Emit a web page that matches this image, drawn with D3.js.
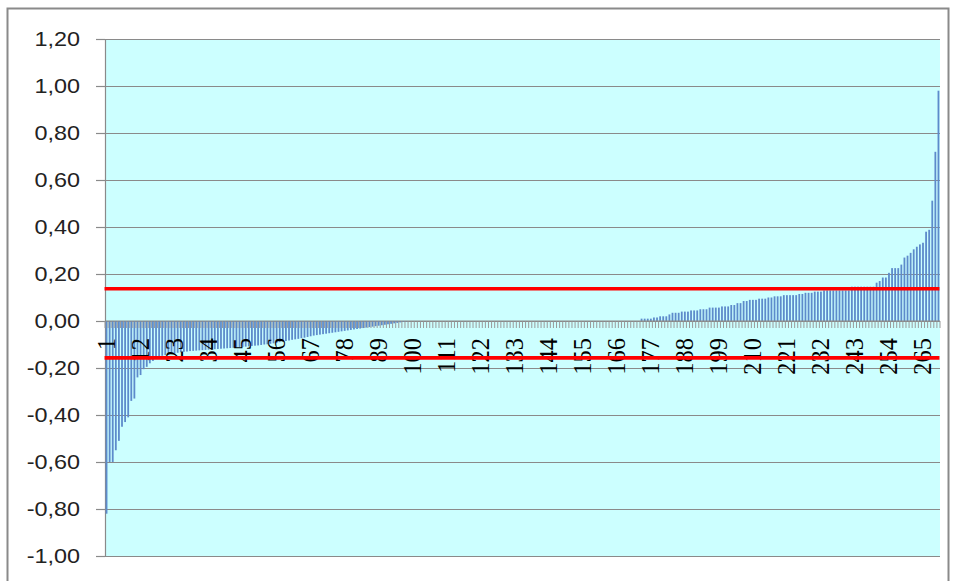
<!DOCTYPE html>
<html><head><meta charset="utf-8">
<script src="https://cdn.jsdelivr.net/npm/d3@7"></script>
<style>
html,body{margin:0;padding:0;background:#fff;}
svg{display:block;}
</style></head>
<body>
<svg id="chart" width="957" height="581"></svg>
<script>
// ---- data ----
const negativeValues = [
 -0.82,-0.60,-0.60,-0.55,-0.51,-0.45,-0.43,-0.41,-0.34,-0.33,
 -0.24,-0.23,-0.205,-0.195,-0.18,-0.17,-0.16,-0.152,-0.148,-0.145,
 -0.142,-0.14,-0.138,-0.135,-0.133,-0.131,-0.13,-0.128,-0.127,-0.126,
 -0.125,-0.124,-0.123,-0.122,-0.121,-0.12,-0.119,-0.118,-0.117,-0.116,
 -0.115,-0.114,-0.113,-0.112,-0.11,-0.109,-0.108,-0.106,-0.105,-0.104,
 -0.102,-0.10,-0.099,-0.097,-0.095,-0.093,-0.09,-0.087,-0.085,-0.083,
 -0.08,-0.078,-0.076,-0.073,-0.071,-0.068,-0.065,-0.062,-0.06,-0.058,
 -0.056,-0.054,-0.052,-0.05,-0.048,-0.046,-0.044,-0.042,-0.04,-0.038,
 -0.036,-0.034,-0.032,-0.03,-0.028,-0.026,-0.024,-0.022,-0.02,-0.018,
 -0.016,-0.014,-0.012,-0.01,-0.008,-0.006,-0.004,-0.002
];
const zeroValues = [
 0,0,0,0,0,0,0,0,0,0, 0,0,0,0,0,0,0,0,0,0,
 0,0,0,0,0,0,0,0,0,0, 0,0,0,0,0,0,0,0,0,0,
 0,0,0,0,0,0,0,0,0,0, 0,0,0,0,0,0,0,0,0,0,
 0,0,0,0,0,0,0,0,0,0, 0,0,0,0,0
];
const positiveValues = [
 0.01,0.01,0.01,0.01,0.015,0.015,0.02,0.02,0.02,0.028,
 0.035,0.035,0.035,0.04,0.04,0.04,0.045,0.045,0.045,0.05,
 0.05,0.05,0.057,0.057,0.057,0.057,0.062,0.062,0.062,0.068,
 0.068,0.076,0.076,0.085,0.085,0.09,0.09,0.09,0.095,0.095,
 0.095,0.10,0.10,0.105,0.105,0.105,0.11,0.11,0.11,0.11,
 0.11,0.115,0.115,0.12,0.12,0.12,0.125,0.125,0.125,0.13,
 0.13,0.13,0.13,0.13,0.13,0.13,0.13,0.13,0.146,0.146,
 0.146,0.146,0.146,0.146,0.146,0.146,0.163,0.17,0.185,0.185,
 0.205,0.225,0.225,0.225,0.24,0.27,0.278,0.29,0.305,0.316,
 0.326,0.333,0.38,0.388,0.512,0.72,0.98
];
const values = negativeValues.concat(zeroValues, positiveValues);
const categories = values.map((d, i) => i + 1);
const categoryTickLabels = [1,12,23,34,45,56,67,78,89,100,111,122,133,144,155,166,177,188,199,210,221,232,243,254,265];
const yTicks = [-1.0,-0.8,-0.6,-0.4,-0.2,0,0.2,0.4,0.6,0.8,1.0,1.2];
const upperLimit = 0.137;
const lowerLimit = -0.157;

// ---- layout ----
const svg = d3.select("#chart");
const plot = {left:105, right:940, top:39, bottom:556};

const x = d3.scaleBand().domain(categories).range([plot.left, plot.right]).paddingInner(0.42).paddingOuter(0.21);
const xc = d => x(d) + x.bandwidth()/2;
const y = d3.scaleLinear().domain([-1, 1.2]).range([plot.bottom, plot.top]);

// outer chart border
svg.append("rect").attr("x",7.5).attr("y",8.5).attr("width",941).attr("height",600)
  .attr("fill","#fff").attr("stroke","#8a8a8a").attr("stroke-width",2);

// plot background
svg.append("rect").attr("x",plot.left).attr("y",plot.top)
  .attr("width",plot.right-plot.left).attr("height",plot.bottom-plot.top)
  .attr("fill","#ccffff");

// y axis with gridlines
const yAxis = d3.axisLeft(y).tickValues(yTicks).tickSize(9).tickPadding(16)
  .tickFormat(d => d3.format(".2f")(d).replace(".", ",").replace("−","-"));
const gy = svg.append("g").attr("transform",`translate(${plot.left},0)`).call(yAxis);
gy.select(".domain").attr("stroke","#8a8a8a").attr("stroke-width",1.2);
gy.selectAll(".tick line").attr("stroke","#8a8a8a").attr("stroke-width",1.2);
gy.selectAll(".tick text")
  .attr("font-family","'Liberation Sans', Arial, sans-serif").attr("font-size",19.5).attr("fill","#222")
  .each(function(){
    const t = d3.select(this);
    const xx = +t.attr("x");
    t.attr("x",null).attr("transform",`translate(${xx},0) scale(1.2,1)`);
  });
gy.selectAll(".tick").append("line")
  .attr("x1",0).attr("x2",plot.right-plot.left).attr("stroke","#8a8a8a").attr("stroke-width",1.2);

// bars
svg.append("g").selectAll("rect").data(values).join("rect")
  .attr("x",(d,i)=>x(categories[i]))
  .attr("width",x.bandwidth())
  .attr("y",d=>y(Math.max(0,d)))
  .attr("height",d=>Math.abs(y(d)-y(0)))
  .attr("fill","#5d8bcb");

// category axis at zero
const xAxis = d3.axisBottom(x).tickValues(categoryTickLabels).tickSize(0).tickFormat(d=>d);
const gx = svg.append("g").attr("transform",`translate(0,${y(0)})`).call(xAxis);
gx.select(".domain").remove();
gx.selectAll(".tick text")
  .attr("font-family","'Liberation Serif', 'Times New Roman', serif").attr("font-size",24.5).attr("fill","#000")
  .attr("y",null).attr("dy","0.33em").attr("text-anchor","end")
  .attr("transform","translate(0,17) rotate(-90)");

// category tick marks (between categories)
const boundaries = categories.map(c => x(c) - x.step()*x.paddingInner()/2);
boundaries.push(plot.right);
svg.append("g").selectAll("line").data(boundaries).join("line")
  .attr("x1",d=>d).attr("x2",d=>d).attr("y1",y(0)).attr("y2",y(0)+7)
  .attr("stroke","#9a9a9a").attr("stroke-width",1);
svg.append("line").attr("x1",plot.left).attr("x2",plot.right).attr("y1",y(0)).attr("y2",y(0))
  .attr("stroke","#8a8a8a").attr("stroke-width",1.2);

// red limit lines
const limits = [upperLimit, lowerLimit];
svg.append("g").selectAll("line").data(limits).join("line")
  .attr("x1",xc(categories[0])-2).attr("x2",xc(categories[categories.length-1])+1)
  .attr("y1",d=>y(d)).attr("y2",d=>y(d))
  .attr("stroke","#ff0000").attr("stroke-width",3.6);
</script>
</body></html>
